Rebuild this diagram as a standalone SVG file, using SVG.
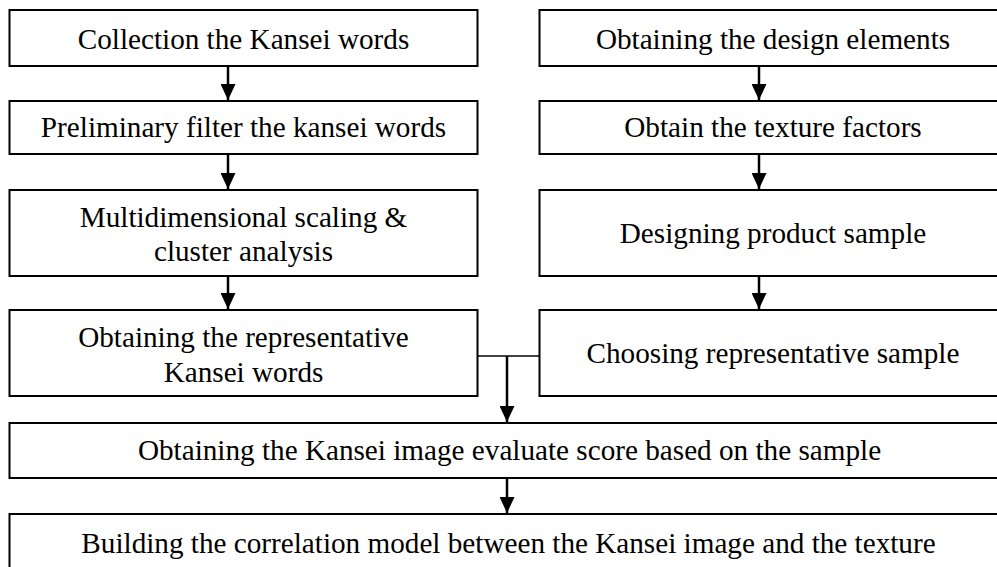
<svg xmlns="http://www.w3.org/2000/svg" width="997" height="567" viewBox="0 0 997 567">
  <style>
    .box { fill: #fff; stroke: #000; stroke-width: 2; }
    .lbl { font-family: "Liberation Serif", "Times New Roman", serif; font-size: 29.2px; fill: #000; text-anchor: middle; }
    .conn { fill: none; stroke: #000; stroke-width: 2.5; }
    .link { fill: none; stroke: #000; stroke-width: 1.5; }
  </style>
  <defs>
    <marker id="arrow" viewBox="0 0 16 15" refX="16" refY="7.5" markerWidth="16" markerHeight="15" markerUnits="userSpaceOnUse" orient="auto">
      <path d="M0,0 L16,7.5 L0,15 Z" fill="#000"/>
    </marker>
  </defs>
  <rect width="997" height="567" fill="#fff"/>

  <!-- Left column -->
  <g id="collect-words">
    <rect class="box" x="9.5" y="10" width="468" height="56"/>
    <text class="lbl" x="243.5" y="49">Collection the Kansei words</text>
  </g>
  <g id="filter-words">
    <rect class="box" x="9.5" y="101" width="468" height="53"/>
    <text class="lbl" x="243.5" y="137">Preliminary filter the kansei words</text>
  </g>
  <g id="mds-cluster">
    <rect class="box" x="9.5" y="190" width="468" height="86"/>
    <text class="lbl" x="243.5" y="227">Multidimensional scaling &amp;</text>
    <text class="lbl" x="243.5" y="261">cluster analysis</text>
  </g>
  <g id="representative-words">
    <rect class="box" x="9.5" y="310" width="468" height="86"/>
    <text class="lbl" x="243.5" y="347">Obtaining the representative</text>
    <text class="lbl" x="243.5" y="382">Kansei words</text>
  </g>

  <!-- Right column -->
  <g id="design-elements">
    <rect class="box" x="539.5" y="10" width="467" height="56"/>
    <text class="lbl" x="773" y="49">Obtaining the design elements</text>
  </g>
  <g id="texture-factors">
    <rect class="box" x="539.5" y="101" width="467" height="53"/>
    <text class="lbl" x="773" y="137">Obtain the texture factors</text>
  </g>
  <g id="product-sample">
    <rect class="box" x="539.5" y="190" width="467" height="86"/>
    <text class="lbl" x="773" y="243">Designing product sample</text>
  </g>
  <g id="representative-sample">
    <rect class="box" x="539.5" y="310" width="467" height="86"/>
    <text class="lbl" x="773" y="363">Choosing representative sample</text>
  </g>

  <!-- Merged steps -->
  <g id="evaluate-score">
    <rect class="box" x="9.5" y="423" width="1000" height="55"/>
    <text class="lbl" x="509.5" y="460">Obtaining the Kansei image evaluate score based on the sample</text>
  </g>
  <g id="correlation-model">
    <rect class="box" x="9.5" y="514" width="1000" height="70"/>
    <text class="lbl" x="508.5" y="553">Building the correlation model between the Kansei image and the texture</text>
  </g>

  <!-- Connectors -->
  <g id="connectors">
    <line class="conn" x1="228" y1="66" x2="228" y2="100" marker-end="url(#arrow)"/>
    <line class="conn" x1="228" y1="154" x2="228" y2="189" marker-end="url(#arrow)"/>
    <line class="conn" x1="228" y1="276" x2="228" y2="309" marker-end="url(#arrow)"/>
    <line class="conn" x1="759" y1="66" x2="759" y2="100" marker-end="url(#arrow)"/>
    <line class="conn" x1="759" y1="154" x2="759" y2="189" marker-end="url(#arrow)"/>
    <line class="conn" x1="759" y1="276" x2="759" y2="309" marker-end="url(#arrow)"/>
    <polyline class="link" points="477.5,356 540,356"/>
    <line class="conn" x1="507" y1="356" x2="507" y2="422" marker-end="url(#arrow)"/>
    <line class="conn" x1="507" y1="478" x2="507" y2="513" marker-end="url(#arrow)"/>
  </g>
</svg>
